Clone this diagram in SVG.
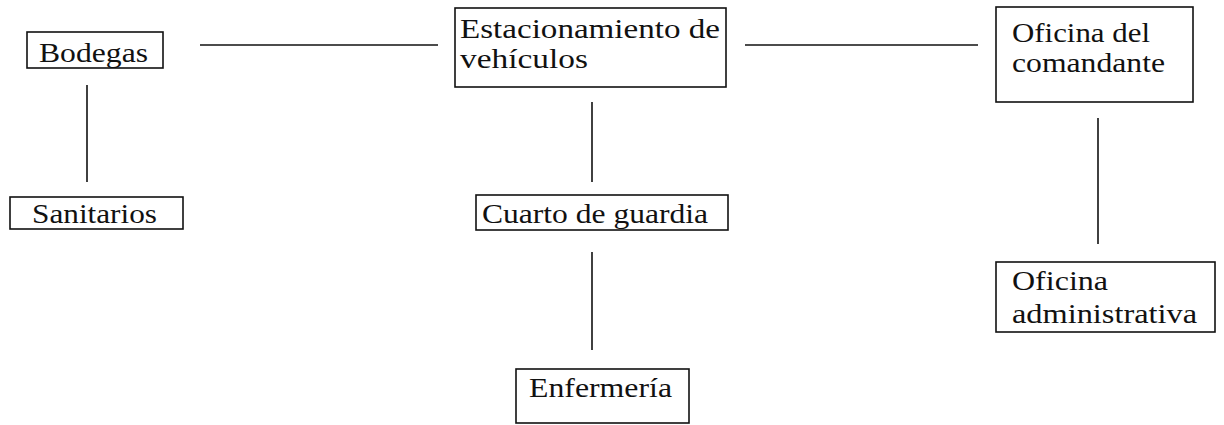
<svg xmlns="http://www.w3.org/2000/svg" width="1224" height="425" viewBox="0 0 1224 425">
<style>
.box{fill:#fff;stroke:#111;stroke-width:1.6}
.ln{stroke:#111;stroke-width:1.6;fill:none}
.t{font-family:"Liberation Serif","Times New Roman",serif;font-size:28px;fill:#111}
</style>
<rect width="1224" height="425" fill="#fff"/>
<g id="connectors">
<line class="ln" x1="200" y1="45" x2="438" y2="45"/>
<line class="ln" x1="745" y1="45" x2="978" y2="45"/>
<line class="ln" x1="87" y1="85" x2="87" y2="182"/>
<line class="ln" x1="592" y1="102" x2="592" y2="182"/>
<line class="ln" x1="592" y1="252" x2="592" y2="350"/>
<line class="ln" x1="1098" y1="118" x2="1098" y2="244"/>
</g>
<g id="bodegas">
<rect class="box" x="27" y="32" width="136" height="36"/>
<text class="t" x="39" y="62" textLength="109" lengthAdjust="spacingAndGlyphs">Bodegas</text>
</g>
<g id="estacionamiento">
<rect class="box" x="455" y="8" width="271" height="79"/>
<text class="t" x="460" y="38" textLength="260" lengthAdjust="spacingAndGlyphs">Estacionamiento de</text>
<text class="t" x="460" y="68" textLength="128" lengthAdjust="spacingAndGlyphs">vehículos</text>
</g>
<g id="oficina-comandante">
<rect class="box" x="996" y="7" width="197" height="95"/>
<text class="t" x="1012" y="42" textLength="138" lengthAdjust="spacingAndGlyphs">Oficina del</text>
<text class="t" x="1012" y="72" textLength="153" lengthAdjust="spacingAndGlyphs">comandante</text>
</g>
<g id="sanitarios">
<rect class="box" x="10" y="197" width="173" height="32"/>
<text class="t" x="32" y="223" textLength="125" lengthAdjust="spacingAndGlyphs">Sanitarios</text>
</g>
<g id="cuarto-guardia">
<rect class="box" x="476" y="195" width="252" height="35"/>
<text class="t" x="482" y="223" textLength="226" lengthAdjust="spacingAndGlyphs">Cuarto de guardia</text>
</g>
<g id="oficina-administrativa">
<rect class="box" x="996" y="262" width="219" height="70"/>
<text class="t" x="1012" y="290" textLength="96" lengthAdjust="spacingAndGlyphs">Oficina</text>
<text class="t" x="1012" y="323" textLength="185" lengthAdjust="spacingAndGlyphs">administrativa</text>
</g>
<g id="enfermeria">
<rect class="box" x="516" y="369" width="173" height="54"/>
<text class="t" x="529" y="397" textLength="143" lengthAdjust="spacingAndGlyphs">Enfermería</text>
</g>
</svg>
